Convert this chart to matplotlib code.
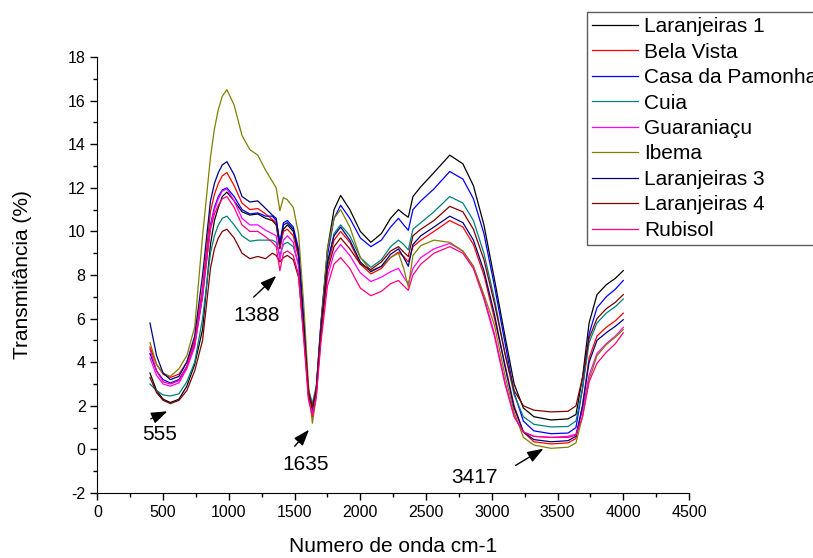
import matplotlib
matplotlib.use("Agg")
import matplotlib.pyplot as plt
from matplotlib.ticker import MultipleLocator

plt.rcParams["font.family"] = ["Liberation Sans", "DejaVu Sans"]
plt.rcParams["axes.unicode_minus"] = False

wavenumber = [400, 450, 500, 555, 620, 680, 740, 800, 860, 890, 920, 950,
              985, 1040, 1100, 1160, 1220, 1280, 1330, 1360, 1388, 1415,
              1445, 1490, 1530, 1570, 1605, 1635, 1665, 1700, 1750, 1800,
              1850, 1920, 2000, 2080, 2160, 2230, 2290, 2330, 2365, 2400,
              2460, 2560, 2680, 2780, 2860, 2940, 3020, 3100, 3170, 3240,
              3320, 3450, 3580, 3640, 3690, 3740, 3800, 3870, 3940, 4000]

laranjeiras1 = [3.5, 2.7, 2.3, 2.15, 2.3, 2.9, 3.9, 5.5, 9.4, 10.5, 11.1, 11.6,
                11.8, 11.4, 10.9, 10.75, 10.8, 10.6, 10.5, 10.3, 9.2, 10.1,
                10.3, 10.0, 9.0, 5.8, 2.7, 1.8, 2.8, 5.8, 9.2, 11.0,
                11.65, 11.0, 10.0, 9.5, 9.9, 10.6, 11.0, 10.8, 10.65, 11.6,
                12.05, 12.7, 13.5, 13.1, 12.1, 10.3, 7.8, 5.2, 3.0, 1.9,
                1.5, 1.35, 1.4, 1.6, 3.3, 5.8, 7.1, 7.55, 7.85, 8.2]
bela_vista = [4.7, 3.9, 3.45, 3.3, 3.45, 4.0, 5.0, 7.4, 10.9, 11.7, 12.2, 12.55,
              12.7, 12.1, 11.3, 11.0, 11.05, 10.8, 10.55, 10.4, 9.3, 10.0,
              10.1, 9.8, 8.8, 5.6, 2.5, 1.7, 2.6, 5.4, 8.4, 9.6,
              10.0, 9.5, 8.5, 8.05, 8.3, 8.8, 9.05, 8.85, 8.6, 9.3,
              9.6, 10.0, 10.5, 10.2, 9.4, 8.0, 6.0, 3.9, 2.0, 0.8,
              0.35, 0.25, 0.3, 0.5, 2.0, 4.2, 5.2, 5.6, 5.9, 6.25]
casa_pamonha = [4.4, 3.6, 3.2, 3.05, 3.2, 3.8, 4.8, 7.0, 10.3, 11.1, 11.6, 11.9,
                12.0, 11.6, 11.0, 10.8, 10.85, 10.7, 10.7, 10.5, 9.5, 10.4,
                10.5, 10.2, 9.2, 5.9, 2.7, 1.8, 2.8, 5.7, 8.9, 10.6,
                11.2, 10.6, 9.7, 9.3, 9.6, 10.2, 10.6, 10.3, 10.05, 11.0,
                11.4, 11.95, 12.75, 12.4, 11.5, 9.9, 7.5, 4.9, 2.6, 1.3,
                0.85, 0.72, 0.75, 1.0, 2.8, 5.3, 6.5, 7.0, 7.35, 7.75]
cuia = [3.0, 2.7, 2.5, 2.45, 2.55, 3.1, 4.0, 6.0, 9.0, 9.8, 10.3, 10.6,
        10.7, 10.3, 9.8, 9.55, 9.6, 9.6, 9.6, 9.5, 8.9, 9.4,
        9.5, 9.3, 8.5, 5.5, 2.8, 2.1, 2.9, 5.5, 8.5, 9.9,
        10.3, 9.8, 8.8, 8.35, 8.7, 9.3, 9.6, 9.4, 9.15, 10.1,
        10.4, 10.9, 11.6, 11.3, 10.5, 9.0, 6.9, 4.4, 2.5, 1.5,
        1.15, 1.03, 1.05, 1.3, 2.8, 4.9, 5.8, 6.25, 6.55, 6.9]
guaraniacu = [4.2, 3.4, 3.0, 2.9, 3.05, 3.7, 4.7, 7.1, 10.2, 11.0, 11.5, 11.85,
              11.95, 11.4, 10.6, 10.3, 10.3, 10.05, 9.9, 9.8, 8.7, 9.6,
              9.8, 9.5, 8.4, 5.3, 2.4, 1.6, 2.5, 5.1, 7.9, 9.0,
              9.4, 8.9, 8.1, 7.7, 7.9, 8.15, 8.3, 7.9, 7.6, 8.3,
              8.8, 9.2, 9.45, 9.1, 8.4, 7.0, 5.3, 3.1, 1.5, 0.8,
              0.6, 0.55, 0.6, 0.7, 1.8, 3.4, 4.4, 4.85, 5.2, 5.6]
ibema = [4.9, 3.9, 3.5, 3.35, 3.7, 4.3, 5.6, 9.8, 13.4, 14.7, 15.6, 16.2,
         16.5, 15.8, 14.4, 13.75, 13.5, 12.8, 12.3, 12.0, 10.95, 11.55,
         11.45, 11.1, 9.9, 6.6, 3.0, 1.2, 2.4, 5.6, 9.2, 10.6,
         11.0, 10.2, 8.8, 8.2, 8.4, 8.8, 9.0, 8.3, 7.45, 8.9,
         9.35, 9.6, 9.5, 9.1, 8.4, 7.1, 5.7, 3.4, 1.7, 0.55,
         0.2, 0.05, 0.1, 0.3, 1.5, 3.2, 4.3, 4.8, 5.15, 5.5]
laranjeiras3 = [5.8, 4.3, 3.5, 3.2, 3.35, 4.0, 5.2, 8.0, 11.4, 12.2, 12.7, 13.05,
                13.2, 12.6, 11.6, 11.35, 11.4, 11.05, 10.75, 10.6, 9.4, 10.3,
                10.4, 10.1, 9.0, 5.7, 2.6, 1.9, 2.7, 5.5, 8.6, 9.8,
                10.2, 9.6, 8.6, 8.15, 8.4, 8.95, 9.2, 8.8, 8.4, 9.4,
                9.8, 10.2, 10.7, 10.4, 9.6, 8.2, 6.2, 3.8, 1.9, 0.8,
                0.45, 0.35, 0.4, 0.6, 2.0, 4.0, 5.0, 5.35, 5.65, 5.95]
laranjeiras4 = [3.3, 2.6, 2.25, 2.1, 2.25, 2.7, 3.6, 5.0, 8.3, 9.2, 9.7, 10.0,
                10.1, 9.7, 9.0, 8.75, 8.85, 8.75, 9.0, 8.9, 8.6, 8.8,
                8.9, 8.7, 7.9, 5.2, 2.7, 1.9, 2.8, 5.3, 8.2, 9.3,
                9.7, 9.2, 8.5, 8.25, 8.6, 9.1, 9.3, 9.05, 8.85, 9.8,
                10.1, 10.5, 11.15, 10.9, 10.1, 8.7, 6.7, 4.4, 2.7, 2.0,
                1.8, 1.72, 1.75, 2.0, 3.3, 5.1, 6.0, 6.45, 6.75, 7.1]
rubisol = [4.6, 3.6, 3.1, 3.0, 3.15, 3.8, 4.9, 7.3, 10.1, 10.8, 11.2, 11.5,
           11.6, 11.1, 10.3, 10.0, 10.0, 9.75, 9.5, 9.3, 8.2, 9.0,
           9.1, 8.9, 8.0, 5.0, 2.3, 1.5, 2.4, 4.9, 7.5, 8.5,
           8.8, 8.3, 7.4, 7.05, 7.25, 7.6, 7.75, 7.5, 7.3, 8.0,
           8.5, 9.0, 9.3, 9.0, 8.3, 6.9, 5.2, 3.0, 1.5, 0.8,
           0.6, 0.55, 0.55, 0.65, 1.5, 3.1, 3.95, 4.45, 4.85, 5.35]

series = [
    ("Laranjeiras 1", laranjeiras1, "#000000"),
    ("Bela Vista", bela_vista, "#FF0000"),
    ("Casa da Pamonha", casa_pamonha, "#0000FF"),
    ("Cuia", cuia, "#008080"),
    ("Guaraniaçu", guaraniacu, "#FF00FF"),
    ("Ibema", ibema, "#808000"),
    ("Laranjeiras 3", laranjeiras3, "#000080"),
    ("Laranjeiras 4", laranjeiras4, "#800000"),
    ("Rubisol", rubisol, "#FF0080"),
]

# annotated bands: label, arrow tip, arrow tail, label position
bands = [
    ("555", (552, 1.8), (387, 1.35), (471, 0.7)),
    ("1388", (1376, 8.05), (1173, 6.9), (1211, 6.15)),
    ("1635", (1624, 1.0), (1487, 0.05), (1586, -0.7)),
    ("3417", (3411, 0.1), (3163, -0.8), (2871, -1.3)),
]

fig = plt.figure(figsize=(8.13, 5.58), dpi=100)
ax = fig.add_axes([0.1198, 0.1165, 0.7277, 0.7813])

for name, vals, col in series:
    ax.plot(wavenumber, vals, color=col, lw=0.9, label=name)

for txt, tip, tail, pos in bands:
    ax.annotate("", xy=tip, xytext=tail,
                arrowprops=dict(arrowstyle="-|>,head_length=0.7,head_width=0.25",
                                color="black", lw=1, mutation_scale=14))
    ax.text(pos[0], pos[1], txt, fontsize=15, ha="center", va="center")

ax.set_xlim(0, 4500)
ax.set_ylim(-2, 18)
ax.xaxis.set_major_locator(MultipleLocator(500))
ax.xaxis.set_minor_locator(MultipleLocator(250))
ax.yaxis.set_major_locator(MultipleLocator(2))
ax.yaxis.set_minor_locator(MultipleLocator(1))
ax.tick_params(which="major", direction="out", length=5, width=1, labelsize=11.5)
ax.tick_params(which="minor", direction="out", length=3, width=1)
ax.spines["top"].set_visible(False)
ax.spines["right"].set_visible(False)

ax.set_xlabel("Numero de onda cm-1", fontsize=15)
ax.set_ylabel("Transmitância (%)", fontsize=15)
ax.xaxis.set_label_coords(0.5, -0.10)
ax.yaxis.set_label_coords(-0.11, 0.5)

leg = ax.legend(loc="upper left", bbox_to_anchor=(587 / 813, 1 - 12 / 558),
                bbox_transform=fig.transFigure, fontsize=15, frameon=True,
                fancybox=False, borderaxespad=0, borderpad=0.25,
                labelspacing=0.31, handlelength=2.2, handletextpad=0.3)
leg.get_frame().set_edgecolor("#333333")
leg.get_frame().set_linewidth(1)

fig.savefig("out.png", dpi=100)
